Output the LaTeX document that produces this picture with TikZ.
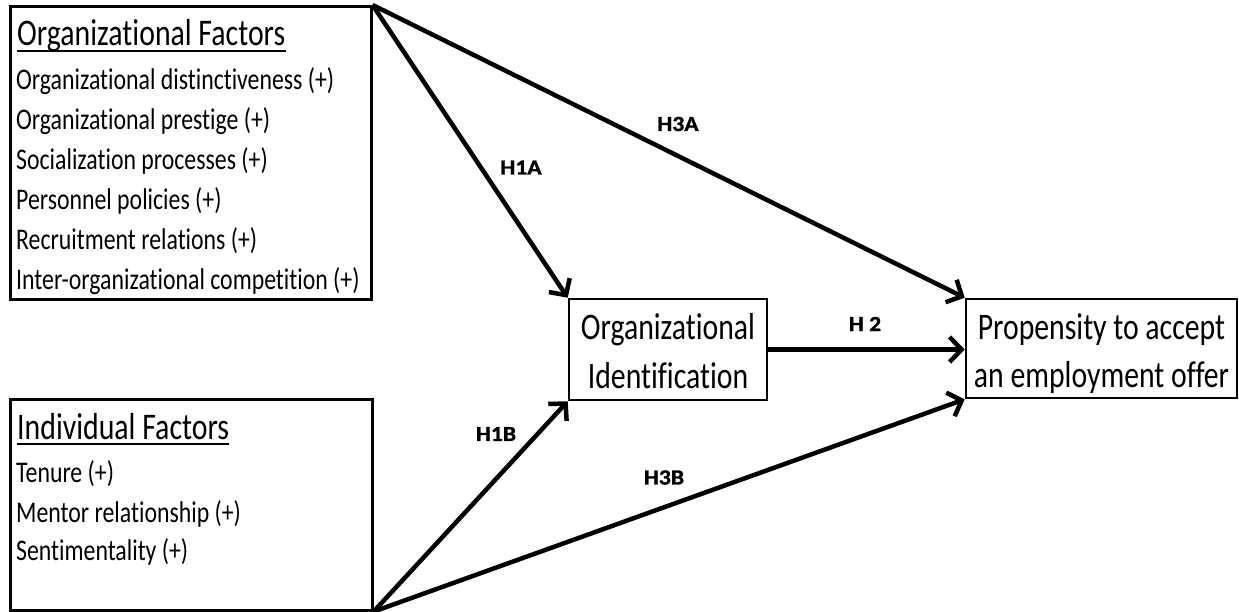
\documentclass[tikz,border=0pt]{standalone}
\usepackage{fontspec}
\setmainfont{Carlito}[FakeStretch=0.793, Ligatures=NoCommon]
\newfontfamily\hypfont{Carlito}[FakeStretch=1.1, FakeBold=1.2]
\usetikzlibrary{arrows.meta}

\begin{document}
\begin{tikzpicture}[x=1pt,y=-1pt,
  box/.style={rectangle, draw, line width=2.6pt, inner sep=0pt},
  midtext/.style={align=center, inner sep=0pt, font=\fontsize{37.5}{48.5}\selectfont},
  factor/.style={anchor=base west, inner sep=0pt, font=\fontsize{30}{36}\selectfont},
  facthead/.style={anchor=base west, inner sep=0pt, font=\fontsize{37.6}{44}\selectfont},
  hyp/.style={inner sep=0pt, font=\hypfont\bfseries\fontsize{21.5}{25}\selectfont},
  link/.style={line width=4.5pt, -{Straight Barb[length=12pt,width=25pt]}}
]
\useasboundingbox (0,0) rectangle (1239,611);

% factor boxes
\node[box, anchor=north west, minimum width=361pt, minimum height=293pt] (orgf) at (9,5) {};
\node[box, anchor=north west, minimum width=362pt, minimum height=211pt] (indf) at (9,398) {};

\node[facthead] (orghead) at (17,45) {Organizational Factors};
\draw[line width=1.5pt] ([yshift=-6pt]orghead.base west) -- ([yshift=-6pt]orghead.base east);
\node[factor] (of1) at (16,89)  {Organizational distinctiveness (+)};
\node[factor] (of2) at (16,129) {Organizational prestige (+)};
\node[factor] (of3) at (16,169) {Socialization processes (+)};
\node[factor] (of4) at (16,209) {Personnel policies (+)};
\node[factor] (of5) at (16,249) {Recruitment relations (+)};
\node[factor] (of6) at (16,289) {Inter-organizational competition (+)};

\node[facthead] (indhead) at (17,439) {Individual Factors};
\draw[line width=1.5pt] ([yshift=-5pt]indhead.base west) -- ([yshift=-5pt]indhead.base east);
\node[factor] (if1) at (16,482) {Tenure (+)};
\node[factor] (if2) at (16,522) {Mentor relationship (+)};
\node[factor] (if3) at (16,560) {Sentimentality (+)};

% outcome boxes
\node[box, minimum width=198pt, minimum height=101pt] (oid) at (668,349.5) {};
\node[box, minimum width=271pt, minimum height=99pt] (prop) at (1101.5,348.5) {};
\node[midtext] (oidtxt) at ([yshift=-1.5pt]oid.center) {Organizational\\Identification};
\node[midtext] (proptxt) at ([yshift=-5pt]prop.center) {Propensity to accept\\an employment offer};

% hypotheses
\draw[link] (orgf.north east) -- (oid.north west);
\draw[link] (orgf.north east) -- (prop.north west);
\draw[link] (oid.east) -- (oid.east -| prop.west);
\draw[link] (indf.south east) -- (oid.south west);
\draw[link] (indf.south east) -- (prop.south west);

\node[hyp] (h1a) at (521,167.5) {H1A};
\node[hyp] (h3a) at (678,124) {H3A};
\node[hyp] (h2) at (865,324) {H 2};
\node[hyp] (h1b) at (496,434) {H1B};
\node[hyp] (h3b) at (664,477.5) {H3B};
\end{tikzpicture}
\end{document}
